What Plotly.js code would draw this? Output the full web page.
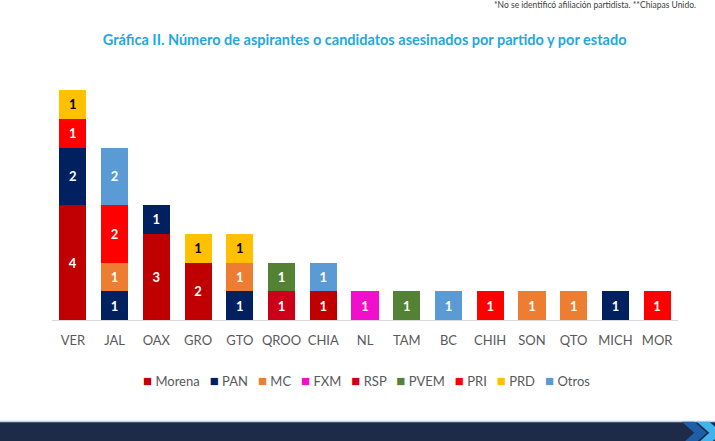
<!DOCTYPE html>
<html>
<head>
<meta charset="utf-8">
<script src="https://cdn.plot.ly/plotly-3.0.1.min.js"></script>
<style>
  html, body { margin: 0; padding: 0; background: #fff; }
  #chart { width: 715px; height: 441px; }
</style>
</head>
<body>
<div id="chart"></div>
<script>
var estados = ['VER', 'JAL', 'OAX', 'GRO', 'GTO', 'QROO', 'CHIA', 'NL', 'TAM', 'BC', 'CHIH', 'SON', 'QTO', 'MICH', 'MOR'];

var morena = [4, 0, 3, 2, 0, 0, 1, 0, 0, 0, 0, 0, 0, 0, 0];
var pan    = [2, 1, 1, 0, 1, 0, 0, 0, 0, 0, 0, 0, 0, 1, 0];
var mc     = [0, 1, 0, 0, 1, 0, 0, 0, 0, 0, 0, 1, 1, 0, 0];
var fxm    = [0, 0, 0, 0, 0, 0, 0, 1, 0, 0, 0, 0, 0, 0, 0];
var rsp    = [0, 0, 0, 0, 0, 1, 0, 0, 0, 0, 0, 0, 0, 0, 0];
var pvem   = [0, 0, 0, 0, 0, 1, 0, 0, 1, 0, 0, 0, 0, 0, 0];
var pri    = [1, 2, 0, 0, 0, 0, 0, 0, 0, 0, 1, 0, 0, 0, 1];
var prd    = [1, 0, 0, 1, 1, 0, 0, 0, 0, 0, 0, 0, 0, 0, 0];
var otros  = [0, 2, 0, 0, 0, 0, 1, 0, 0, 1, 0, 0, 0, 0, 0];

var partidos = [
    {name: 'Morena', vals: morena, color: '#C00000', txt: '#ffffff'},
    {name: 'PAN',    vals: pan,    color: '#002060', txt: '#ffffff'},
    {name: 'MC',     vals: mc,     color: '#ED7D31', txt: '#ffffff'},
    {name: 'FXM',    vals: fxm,    color: '#F20FCB', txt: '#ffffff'},
    {name: 'RSP',    vals: rsp,    color: '#CC0019', txt: '#ffffff'},
    {name: 'PVEM',   vals: pvem,   color: '#548235', txt: '#ffffff'},
    {name: 'PRI',    vals: pri,    color: '#FF0000', txt: '#ffffff'},
    {name: 'PRD',    vals: prd,    color: '#FFC000', txt: '#000000'},
    {name: 'Otros',  vals: otros,  color: '#5B9BD5', txt: '#ffffff'}
];

var fontFam = 'Lato, "Open Sans", sans-serif';

var traces = [];
for (let i = 0; i < partidos.length; i++) {
    var p = partidos[i];
    traces.push({
        x: estados,
        y: p.vals.map(v => v > 0 ? v : null),
        text: p.vals.map(v => v > 0 ? String(v) : ''),
        type: 'bar',
        name: p.name,
        marker: {color: p.color},
        textposition: 'inside',
        insidetextanchor: 'middle',
        constraintext: 'none',
        textfont: {family: fontFam, size: 13, color: p.txt, weight: 'bold'},
        hoverinfo: 'x+y+name'
    });
}

// the built-in legend is too wide for one row, so the key is one line of text
var nb = '\u00A0';
var legendText = partidos.map(p =>
    '<span style="color:' + p.color + ';font-size:15px">\u25A0</span>' + nb + p.name
).join(nb + nb + nb);

var layout = {
    width: 715,
    height: 441,
    barmode: 'stack',
    bargap: 0.35,
    margin: {l: 52, r: 37, t: 90, b: 121},
    paper_bgcolor: '#ffffff',
    plot_bgcolor: '#ffffff',
    font: {family: fontFam, color: '#595959'},
    title: {
        text: '<b>Gráfica II. Número de aspirantes o candidatos asesinados por partido y por estado</b>',
        font: {family: fontFam, size: 14.5, color: '#1FA8DE'},
        x: 0.51, xanchor: 'center',
        y: 0.91, yanchor: 'middle'
    },
    xaxis: {
        type: 'category',
        showline: true,
        linecolor: '#D9D9D9',
        linewidth: 1,
        showgrid: false,
        ticks: '',
        ticklabelstandoff: 8,
        tickfont: {family: fontFam, size: 13, color: '#595959'},
        fixedrange: true
    },
    yaxis: {
        range: [0, 8],
        visible: false,
        showgrid: false,
        zeroline: false,
        fixedrange: true
    },
    showlegend: false,
    annotations: [{
        text: '*No se identificó afiliación partidista. **Chiapas Unido.',
        xref: 'paper', yref: 'paper',
        x: 1.032, y: 1.37,
        xanchor: 'right', yanchor: 'middle',
        showarrow: false,
        font: {family: fontFam, size: 8.5, color: '#404040'}
    }, {
        text: legendText,
        xref: 'paper', yref: 'paper',
        x: 0.503, y: -0.261,
        xanchor: 'center', yanchor: 'middle',
        showarrow: false,
        font: {family: fontFam, size: 13, color: '#595959'}
    }],
    shapes: [
        {type: 'rect', xref: 'paper', yref: 'paper',
         x0: -0.2, x1: 1.2, y0: -0.442, y1: -0.6,
         fillcolor: '#1E2B48', line: {width: 0}, layer: 'above'},
        {type: 'line', xref: 'paper', yref: 'paper',
         x0: -0.2, x1: 1.2, y0: -0.441, y1: -0.441,
         line: {color: '#BFD3E6', width: 1.5}, layer: 'above'},
        {type: 'path', xref: 'paper', yref: 'paper',
         path: 'M 1.006 -0.442 L 1.026 -0.442 L 1.046 -0.49 L 1.026 -0.54 L 1.006 -0.54 L 1.026 -0.49 Z',
         fillcolor: '#1F5FA8', line: {width: 0}, layer: 'above'},
        {type: 'path', xref: 'paper', yref: 'paper',
         path: 'M 1.03 -0.442 L 1.05 -0.442 L 1.07 -0.49 L 1.05 -0.54 L 1.03 -0.54 L 1.05 -0.49 Z',
         fillcolor: '#3FB4EC', line: {width: 0}, layer: 'above'}
    ]
};

Plotly.newPlot('chart', traces, layout, {displayModeBar: false, staticPlot: true});
</script>
</body>
</html>
